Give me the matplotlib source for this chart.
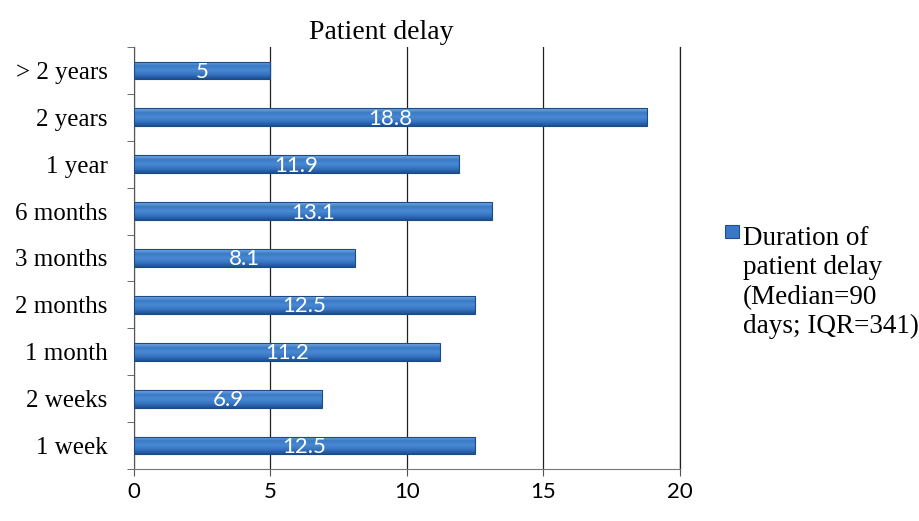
import matplotlib.pyplot as plt
import numpy as np
from matplotlib.colors import LinearSegmentedColormap

# ── данные ──
cats = ["1 week", "2 weeks", "1 month", "2 months", "3 months",
        "6 months", "1 year", "2 years", "> 2 years"]
vals = [12.5, 6.9, 11.2, 12.5, 8.1, 13.1, 11.9, 18.8, 5]
xticks = [0, 5, 10, 15, 20]
legend_txt = "Duration of\npatient delay\n(Median=90\ndays; IQR=341)"

SERIF = "Liberation Serif"
SANS = "Lato"

fig = plt.figure(figsize=(9.19, 5.21), dpi=100)
ax = fig.add_axes([0.1458, 0.0998, 0.5941, 0.81])

# градиент «объёмного» бара: светлый верх, тёмный низ
grad = LinearSegmentedColormap.from_list(
    "bar", ["#1c4f93", "#3574c2", "#4a88d2", "#3a7ac6", "#7aaee6"])

y = np.arange(len(cats))
bh = 0.38
bars = ax.barh(y, vals, height=bh, color="none",
               edgecolor="#1d4a85", linewidth=0.8, zorder=4)
for b in bars:
    x0, y0 = b.get_x(), b.get_y()
    w, h = b.get_width(), b.get_height()
    im = ax.imshow(np.linspace(0, 1, 64).reshape(-1, 1), cmap=grad,
                   aspect="auto", extent=(x0, x0 + w, y0, y0 + h),
                   origin="lower", zorder=3, interpolation="bilinear")
    im.set_clip_path(b)

for yi, v in zip(y, vals):
    ax.text(v / 2, yi - 0.03, f"{v:g}", color="white", ha="center",
            va="center", fontsize=16, family=SANS, zorder=5)

ax.set_xlim(0, 20)
ax.set_ylim(-0.5, len(cats) - 0.5)
ax.set_xticks(xticks)
ax.set_xticklabels([str(t) for t in xticks], family=SANS, fontsize=16)
ax.set_yticks(y)
ax.set_yticklabels(cats, family=SERIF, fontsize=18)
ax.tick_params(axis="y", length=0, pad=19)
ax.set_yticks(np.arange(-0.5, len(cats)), minor=True)
ax.tick_params(axis="y", which="minor", length=5, color="#555555")
ax.tick_params(axis="x", length=5, color="#555555", pad=4)

ax.grid(axis="x", color="#222222", linewidth=0.9, zorder=1)
ax.spines["top"].set_visible(False)
ax.spines["right"].set_color("#222222")
ax.spines["right"].set_linewidth(0.9)
ax.spines["left"].set_color("#555555")
ax.spines["bottom"].set_color("#777777")

fig.text(0.415, 0.938, "Patient delay", family=SERIF, fontsize=20,
         ha="center", va="center")

# легенда
fig.patches.append(plt.Rectangle((0.789, 0.543), 0.0155, 0.026,
                                 transform=fig.transFigure,
                                 facecolor="#3a78c6", edgecolor="#1f4f8f",
                                 linewidth=0.8))
fig.text(0.808, 0.567, legend_txt, family=SERIF, fontsize=19.5,
         ha="left", va="top", linespacing=1.24)

fig.savefig("out.png", dpi=100)
